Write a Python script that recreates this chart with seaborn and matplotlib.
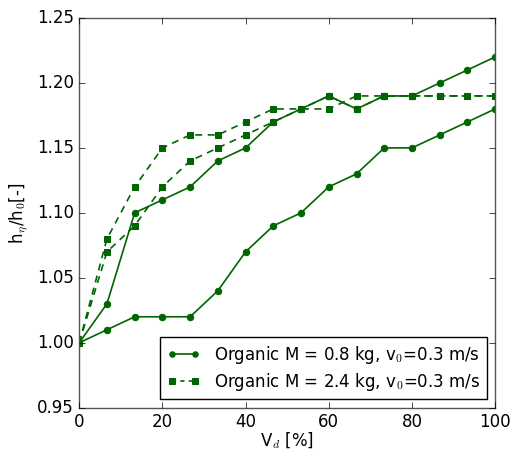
import numpy as np
import pandas as pd
import matplotlib
matplotlib.use("Agg")
import matplotlib.pyplot as plt
import seaborn as sns

# data
vd = [0, 6.67, 13.33, 20, 26.67, 33.33, 40, 46.67, 53.33, 60, 66.67, 73.33, 80, 86.67, 93.33, 100]
m08_a = [1.00, 1.03, 1.10, 1.11, 1.12, 1.14, 1.15, 1.17, 1.18, 1.19, 1.18, 1.19, 1.19, 1.20, 1.21, 1.22]
m08_b = [1.00, 1.01, 1.02, 1.02, 1.02, 1.04, 1.07, 1.09, 1.10, 1.12, 1.13, 1.15, 1.15, 1.16, 1.17, 1.18]
m24_a = [1.00, 1.08, 1.12, 1.15, 1.16, 1.16, 1.17, 1.18, 1.18, 1.18, 1.19, 1.19, 1.19, 1.19, 1.19, 1.19]
m24_b = [1.00, 1.07, 1.09, 1.12, 1.14, 1.15, 1.16, 1.17, 1.18, 1.19, 1.18, 1.19, 1.19, 1.19, 1.19, 1.19]
label_08 = "Organic M = 0.8 kg, v$_0$=0.3 m/s"
label_24 = "Organic M = 2.4 kg, v$_0$=0.3 m/s"

plt.style.use("classic")
plt.rcParams["mathtext.fontset"] = "cm"
plt.rcParams["font.family"] = ["DejaVu Sans"]

fig = plt.figure(figsize=(5.11, 4.5), dpi=100, facecolor="white")
ax = fig.add_axes([0.155, 0.094, 0.814, 0.866])

col = "#006400"
kw = dict(color=col, linewidth=1.2, markersize=4.6, markeredgecolor=col, ax=ax)
sns.lineplot(x=vd, y=m08_a, marker="o", label=label_08, **kw)
sns.lineplot(x=vd, y=m08_b, marker="o", **kw)
sns.lineplot(x=vd, y=m24_a, marker="s", label=label_24, **kw)
sns.lineplot(x=vd, y=m24_b, marker="s", **kw)
# seaborn draws solid lines; make the 2.4 kg runs dashed
for ln in ax.lines[2:4]:
    ln.set_linestyle((0, (5, 4)))

ax.set_xlim(0, 100)
ax.set_ylim(0.95, 1.25)
ax.set_yticks(np.arange(0.95, 1.2501, 0.05))
ax.set_yticklabels(["%.2f" % t for t in np.arange(0.95, 1.2501, 0.05)])
ax.set_xlabel("V$_d$ [%]", labelpad=-1)
ax.set_ylabel("h$_\\eta$/h$_0$[-]")
for sp in ax.spines.values():
    sp.set_color("#555555")

leg = ax.legend(loc="lower right", numpoints=2, fontsize=12, fancybox=False,
                handlelength=2, borderpad=0.4, labelspacing=0.3, markerscale=0.85)
for ln in leg.get_lines()[1:]:
    ln.set_linestyle((0, (3, 3)))

fig.savefig("out.png", dpi=100, facecolor="white")
